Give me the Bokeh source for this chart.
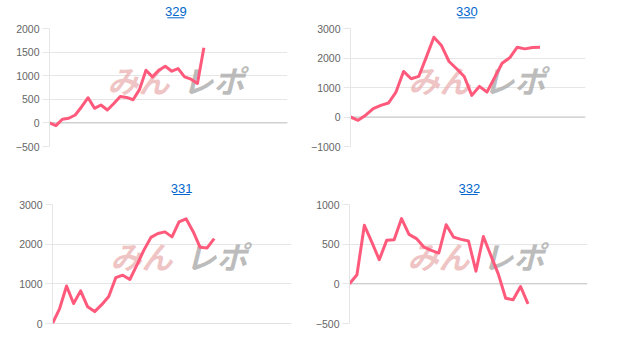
from bokeh.plotting import figure
from bokeh.models import Range1d, FixedTicker, Label, Span
from bokeh.layouts import column, row
from bokeh.core.properties import value
from bokeh.embed import file_html
from bokeh.resources import INLINE

# ---- data ----
titles = ["329", "330", "331", "332"]

s329 = [0, -57, 78, 99, 168, 343, 533, 309, 379, 274, 410, 560, 540, 490, 710,
        1116, 975, 1116, 1200, 1095, 1151, 975, 926, 836, 1594]
s330 = [0, -111, 60, 283, 395, 473, 845, 1544, 1297, 1375, 2030, 2703, 2422, 1882,
        1635, 1375, 733, 1037, 845, 1331, 1824, 2006, 2365, 2310, 2355, 2365]
s331 = [0, 370, 945, 504, 822, 420, 300, 475, 680, 1155, 1218, 1109, 1470, 1850,
        2170, 2270, 2310, 2184, 2562, 2640, 2320, 1920, 1905, 2142]
s332 = [0, 114, 738, 527, 304, 548, 557, 823, 624, 570, 464, 422, 388, 745, 588,
        560, 540, 160, 597, 359, 126, -182, -200, -34, -253]

ticks329 = [-500, 0, 500, 1000, 1500, 2000]
ticks330 = [-1000, 0, 1000, 2000, 3000]
ticks331 = [0, 1000, 2000, 3000]
ticks332 = [-500, 0, 500, 1000]

# number of category slots on the (hidden) x axis of each chart
slots = [37, 31, 34, 32]

series = [s329, s330, s331, s332]
tickset = [ticks329, ticks330, ticks331, ticks332]

LINE = "#ff5a7c"
GRID = "#e6e6e6"
ZERO = "#c4c4c4"
LINK = "#0066cc"


def make_header(i, width, height, cx, ty, uy):
    h = figure(width=width, height=height, output_backend="svg", toolbar_location=None,
               x_range=Range1d(0, width), y_range=Range1d(0, height),
               min_border=0)
    h.xaxis.visible = False
    h.yaxis.visible = False
    h.grid.visible = False
    h.outline_line_color = None
    h.background_fill_color = "white"
    h.border_fill_color = "white"
    h.text(x=[cx], y=[ty], text=[titles[i]], text_font=value("Liberation Sans"),
           text_font_size="13px", text_color=LINK, text_align="center",
           text_baseline="middle")
    h.segment(x0=[cx - 11], y0=[uy], x1=[cx + 11], y1=[uy], line_color=LINK,
              line_width=1)
    return h


def make_chart(i, width, height, bl, br, bt, bb):
    ys = series[i]
    xs = list(range(len(ys)))
    ticks = tickset[i]
    fh = height - bt - bb
    p = figure(width=width, height=height, output_backend="svg", toolbar_location=None,
               x_range=Range1d(0, slots[i]), y_range=Range1d(ticks[0], ticks[-1]),
               min_border_left=bl, min_border_right=br, min_border_top=bt,
               min_border_bottom=bb)
    p.outline_line_color = None
    p.background_fill_color = "white"
    p.border_fill_color = "white"
    p.xaxis.visible = False
    p.xgrid.visible = False
    p.yaxis.ticker = FixedTicker(ticks=ticks)
    p.ygrid.ticker = FixedTicker(ticks=ticks)
    p.ygrid.grid_line_color = GRID
    p.yaxis.axis_line_color = GRID
    p.yaxis.major_tick_line_color = GRID
    p.yaxis.major_tick_out = 7
    p.yaxis.major_tick_in = 0
    p.yaxis.minor_tick_out = 0
    p.yaxis.minor_tick_in = 0
    p.yaxis.major_label_standoff = 3
    p.yaxis.major_label_text_font = "Liberation Sans"
    p.yaxis.major_label_text_font_size = "10.5px"
    p.yaxis.major_label_text_color = "#666666"

    p.add_layout(Span(location=0, dimension="width", line_color=ZERO, line_width=1,
                      level="underlay"))

    # watermark
    p.add_layout(Label(x=58, y=fh - 51, x_units="screen", y_units="screen",
                       text="みん", text_font="Noto Sans CJK JP",
                       text_font_style="bold italic", text_font_size="31px",
                       text_color="#e9aaaa", text_alpha=0.7, text_baseline="middle",
                       text_align="left", level="underlay"))
    p.add_layout(Label(x=133, y=fh - 51, x_units="screen", y_units="screen", text="レポ",
                       text_font="Noto Sans CJK JP", text_font_style="bold italic",
                       text_font_size="31px", text_color="#aaaaaa", text_alpha=0.8,
                       text_baseline="middle", text_align="left", level="underlay"))

    p.line(xs, ys, line_color=LINE, line_width=3, line_join="round")
    return p


h1 = make_header(0, 308, 20, 163.5, 9, 2.7)
h2 = make_header(1, 309, 20, 153, 9, 2.7)
h3 = make_header(2, 308, 25, 166.5, 7.6, 2)
h4 = make_header(3, 309, 25, 155.5, 7.6, 2)

p1 = make_chart(0, 308, 151, 49, 21, 8, 25)
p2 = make_chart(1, 309, 151, 42, 32, 8, 25)
p3 = make_chart(2, 308, 147, 52, 17, 8, 20)
p4 = make_chart(3, 309, 147, 41, 30, 8, 20)

layout = column(row(column(h1, p1), column(h2, p2)),
                row(column(h3, p3), column(h4, p4)))

open("out.html", "w").write(file_html(layout, INLINE))
